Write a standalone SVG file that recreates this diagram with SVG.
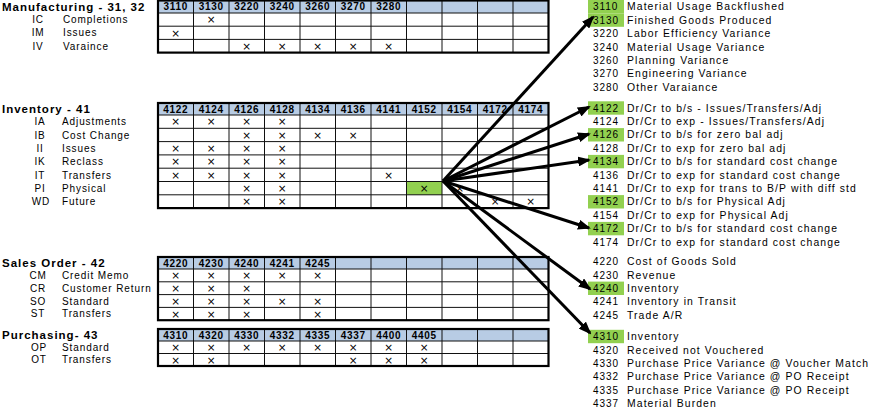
<svg xmlns="http://www.w3.org/2000/svg" width="888" height="409" viewBox="0 0 888 409">
<style>
text{font-family:"Liberation Sans",Arial,sans-serif;fill:#000}
.title{font-size:11.5px;font-weight:bold;letter-spacing:1px}
.lbl{font-size:10px;letter-spacing:0.9px}
.acc{font-size:10.4px;letter-spacing:1.1px}
.code{font-size:10px;letter-spacing:0.8px;text-anchor:middle}
.hd{font-size:10px;font-weight:bold;letter-spacing:0.7px;text-anchor:middle}
.x{font-family:"DejaVu Sans",sans-serif;font-size:10.5px;text-anchor:middle}
.hfill{fill:#b8cce4}
.grid{fill:none;stroke:#111;stroke-width:1}
.outer{fill:none;stroke:#000;stroke-width:2.2}
.green{fill:#92d050}
.conn{stroke:#000;stroke-width:3;fill:none}
</style>
<defs>
<marker id="ah" markerUnits="userSpaceOnUse" markerWidth="13" markerHeight="10" refX="11" refY="5" orient="auto">
<path d="M0,0 L13,5 L0,10 Z" fill="#000"/>
</marker>
</defs>

<g id="manufacturing">
<text class="title" x="2" y="10.5">Manufacturing - 31, 32</text>
<text class="code" x="38" y="23.2">IC</text><text class="lbl" x="63" y="23.2">Completions</text>
<text class="code" x="38" y="36.4">IM</text><text class="lbl" x="63" y="36.4">Issues</text>
<text class="code" x="38" y="49.6">IV</text><text class="lbl" x="63" y="49.6">Varaince</text>
<rect class="hfill" x="158" y="0.5" width="390.5" height="12.5"/>
<path class="grid" d="M158 13H548.5M158 26.2H548.5M158 39.4H548.5M193.5 0.5V52.6M229 0.5V52.6M264.5 0.5V52.6M300 0.5V52.6M335.5 0.5V52.6M371 0.5V52.6M406.5 0.5V52.6M442 0.5V52.6M477.5 0.5V52.6M513 0.5V52.6"/>
<rect class="outer" x="158" y="0.5" width="390.5" height="52.1"/>
<text class="hd" x="175.75" y="10.3">3110</text><text class="hd" x="211.25" y="10.3">3130</text><text class="hd" x="246.75" y="10.3">3220</text><text class="hd" x="282.25" y="10.3">3240</text><text class="hd" x="317.75" y="10.3">3260</text><text class="hd" x="353.25" y="10.3">3270</text><text class="hd" x="388.75" y="10.3">3280</text>
<text class="x" x="211.25" y="23.3">×</text>
<text class="x" x="175.75" y="36.5">×</text>
<text class="x" x="246.75" y="49.7">×</text><text class="x" x="282.25" y="49.7">×</text><text class="x" x="317.75" y="49.7">×</text><text class="x" x="353.25" y="49.7">×</text><text class="x" x="388.75" y="49.7">×</text>
</g>

<g id="inventory">
<text class="title" x="2" y="113">Inventory - 41</text>
<text class="code" x="40" y="125.3">IA</text><text class="lbl" x="62" y="125.3">Adjustments</text>
<text class="code" x="40" y="138.6">IB</text><text class="lbl" x="62" y="138.6">Cost Change</text>
<text class="code" x="40" y="151.9">II</text><text class="lbl" x="62" y="151.9">Issues</text>
<text class="code" x="40" y="165.2">IK</text><text class="lbl" x="62" y="165.2">Reclass</text>
<text class="code" x="40" y="178.5">IT</text><text class="lbl" x="62" y="178.5">Transfers</text>
<text class="code" x="40" y="191.8">PI</text><text class="lbl" x="62" y="191.8">Physical</text>
<text class="code" x="41" y="205.1">WD</text><text class="lbl" x="62" y="205.1">Future</text>
<rect class="hfill" x="158" y="103" width="390.5" height="12"/>
<rect class="green" x="406.5" y="181.5" width="35.5" height="13.3"/>
<path class="grid" d="M158 115H548.5M158 128.3H548.5M158 141.6H548.5M158 154.9H548.5M158 168.2H548.5M158 181.5H548.5M158 194.8H548.5M193.5 103V208.1M229 103V208.1M264.5 103V208.1M300 103V208.1M335.5 103V208.1M371 103V208.1M406.5 103V208.1M442 103V208.1M477.5 103V208.1M513 103V208.1"/>
<rect class="outer" x="158" y="103" width="390.5" height="105.1"/>
<text class="hd" x="175.75" y="112.6">4122</text><text class="hd" x="211.25" y="112.6">4124</text><text class="hd" x="246.75" y="112.6">4126</text><text class="hd" x="282.25" y="112.6">4128</text><text class="hd" x="317.75" y="112.6">4134</text><text class="hd" x="353.25" y="112.6">4136</text><text class="hd" x="388.75" y="112.6">4141</text><text class="hd" x="424.25" y="112.6">4152</text><text class="hd" x="459.75" y="112.6">4154</text><text class="hd" x="495.25" y="112.6">4172</text><text class="hd" x="530.75" y="112.6">4174</text>
<text class="x" x="175.75" y="125.4">×</text><text class="x" x="211.25" y="125.4">×</text><text class="x" x="246.75" y="125.4">×</text><text class="x" x="282.25" y="125.4">×</text>
<text class="x" x="246.75" y="138.7">×</text><text class="x" x="282.25" y="138.7">×</text><text class="x" x="317.75" y="138.7">×</text><text class="x" x="353.25" y="138.7">×</text>
<text class="x" x="175.75" y="152">×</text><text class="x" x="211.25" y="152">×</text><text class="x" x="246.75" y="152">×</text><text class="x" x="282.25" y="152">×</text>
<text class="x" x="175.75" y="165.3">×</text><text class="x" x="211.25" y="165.3">×</text><text class="x" x="246.75" y="165.3">×</text><text class="x" x="282.25" y="165.3">×</text>
<text class="x" x="175.75" y="178.6">×</text><text class="x" x="211.25" y="178.6">×</text><text class="x" x="246.75" y="178.6">×</text><text class="x" x="282.25" y="178.6">×</text><text class="x" x="388.75" y="178.6">×</text>
<text class="x" x="246.75" y="191.9">×</text><text class="x" x="282.25" y="191.9">×</text><text class="x" x="424.25" y="191.9">×</text><text class="x" x="459.75" y="191.9">×</text>
<text class="x" x="246.75" y="205.2">×</text><text class="x" x="282.25" y="205.2">×</text><text class="x" x="495.25" y="205.2">×</text><text class="x" x="530.75" y="205.2">×</text>
</g>

<g id="sales-order">
<text class="title" x="2" y="267">Sales Order - 42</text>
<text class="code" x="38" y="279">CM</text><text class="lbl" x="62" y="279">Credit Memo</text>
<text class="code" x="38" y="291.8">CR</text><text class="lbl" x="62" y="291.8">Customer Return</text>
<text class="code" x="38" y="304.6">SO</text><text class="lbl" x="62" y="304.6">Standard</text>
<text class="code" x="38" y="317.4">ST</text><text class="lbl" x="62" y="317.4">Transfers</text>
<rect class="hfill" x="158" y="257" width="390.5" height="12"/>
<path class="grid" d="M158 269H548.5M158 281.8H548.5M158 294.6H548.5M158 307.4H548.5M193.5 257V320.2M229 257V320.2M264.5 257V320.2M300 257V320.2M335.5 257V320.2M371 257V320.2M406.5 257V320.2M442 257V320.2M477.5 257V320.2M513 257V320.2"/>
<rect class="outer" x="158" y="257" width="390.5" height="63.2"/>
<text class="hd" x="175.75" y="266.6">4220</text><text class="hd" x="211.25" y="266.6">4230</text><text class="hd" x="246.75" y="266.6">4240</text><text class="hd" x="282.25" y="266.6">4241</text><text class="hd" x="317.75" y="266.6">4245</text>
<text class="x" x="175.75" y="279.1">×</text><text class="x" x="211.25" y="279.1">×</text><text class="x" x="246.75" y="279.1">×</text><text class="x" x="282.25" y="279.1">×</text><text class="x" x="317.75" y="279.1">×</text>
<text class="x" x="175.75" y="291.9">×</text><text class="x" x="211.25" y="291.9">×</text><text class="x" x="246.75" y="291.9">×</text>
<text class="x" x="175.75" y="304.7">×</text><text class="x" x="211.25" y="304.7">×</text><text class="x" x="246.75" y="304.7">×</text><text class="x" x="282.25" y="304.7">×</text><text class="x" x="317.75" y="304.7">×</text>
<text class="x" x="175.75" y="317.5">×</text><text class="x" x="211.25" y="317.5">×</text><text class="x" x="246.75" y="317.5">×</text><text class="x" x="317.75" y="317.5">×</text>
</g>

<g id="purchasing">
<text class="title" x="2" y="339">Purchasing- 43</text>
<text class="code" x="39" y="350.8">OP</text><text class="lbl" x="62" y="350.8">Standard</text>
<text class="code" x="39" y="363.3">OT</text><text class="lbl" x="62" y="363.3">Transfers</text>
<rect class="hfill" x="158" y="329" width="390.5" height="12"/>
<path class="grid" d="M158 341H548.5M158 353.5H548.5M193.5 329V366M229 329V366M264.5 329V366M300 329V366M335.5 329V366M371 329V366M406.5 329V366M442 329V366M477.5 329V366M513 329V366"/>
<rect class="outer" x="158" y="329" width="390.5" height="37"/>
<text class="hd" x="175.75" y="338.6">4310</text><text class="hd" x="211.25" y="338.6">4320</text><text class="hd" x="246.75" y="338.6">4330</text><text class="hd" x="282.25" y="338.6">4332</text><text class="hd" x="317.75" y="338.6">4335</text><text class="hd" x="353.25" y="338.6">4337</text><text class="hd" x="388.75" y="338.6">4400</text><text class="hd" x="424.25" y="338.6">4405</text>
<text class="x" x="175.75" y="351">×</text><text class="x" x="211.25" y="351">×</text><text class="x" x="246.75" y="351">×</text><text class="x" x="282.25" y="351">×</text><text class="x" x="317.75" y="351">×</text><text class="x" x="353.25" y="351">×</text><text class="x" x="388.75" y="351">×</text><text class="x" x="424.25" y="351">×</text>
<text class="x" x="175.75" y="363.5">×</text><text class="x" x="211.25" y="363.5">×</text><text class="x" x="353.25" y="363.5">×</text><text class="x" x="388.75" y="363.5">×</text><text class="x" x="424.25" y="363.5">×</text>
</g>

<g id="accounts">
<rect class="green" x="588" y="0" width="36" height="13.4"/>
<rect class="green" x="588" y="13.4" width="36" height="13.4"/>
<rect class="green" x="588" y="101.3" width="36" height="13.4"/>
<rect class="green" x="588" y="128.1" width="36" height="13.4"/>
<rect class="green" x="588" y="154.9" width="36" height="13.4"/>
<rect class="green" x="588" y="195.1" width="36" height="13.4"/>
<rect class="green" x="588" y="221.9" width="36" height="13.4"/>
<rect class="green" x="588" y="281.6" width="36" height="13.4"/>
<rect class="green" x="588" y="329.8" width="36" height="13.4"/>
<g id="acct-3110"><text class="lbl" x="593" y="10.3">3110</text><text class="acc" x="627" y="10.3">Material Usage Backflushed</text></g>
<g id="acct-3130"><text class="lbl" x="593" y="23.7">3130</text><text class="acc" x="627" y="23.7">Finished Goods Produced</text></g>
<g id="acct-3220"><text class="lbl" x="593" y="37.1">3220</text><text class="acc" x="627" y="37.1">Labor Efficiency Variance</text></g>
<g id="acct-3240"><text class="lbl" x="593" y="50.5">3240</text><text class="acc" x="627" y="50.5">Material Usage Variance</text></g>
<g id="acct-3260"><text class="lbl" x="593" y="63.9">3260</text><text class="acc" x="627" y="63.9">Planning Variance</text></g>
<g id="acct-3270"><text class="lbl" x="593" y="77.3">3270</text><text class="acc" x="627" y="77.3">Engineering Variance</text></g>
<g id="acct-3280"><text class="lbl" x="593" y="90.7">3280</text><text class="acc" x="627" y="90.7">Other Varaiance</text></g>
<g id="acct-4122"><text class="lbl" x="593" y="111.6">4122</text><text class="acc" x="627" y="111.6">Dr/Cr to b/s - Issues/Transfers/Adj</text></g>
<g id="acct-4124"><text class="lbl" x="593" y="125">4124</text><text class="acc" x="627" y="125">Dr/Cr to exp - Issues/Transfers/Adj</text></g>
<g id="acct-4126"><text class="lbl" x="593" y="138.4">4126</text><text class="acc" x="627" y="138.4">Dr/Cr to b/s for zero bal adj</text></g>
<g id="acct-4128"><text class="lbl" x="593" y="151.8">4128</text><text class="acc" x="627" y="151.8">Dr/Cr to exp for zero bal adj</text></g>
<g id="acct-4134"><text class="lbl" x="593" y="165.2">4134</text><text class="acc" x="627" y="165.2">Dr/Cr to b/s for standard cost change</text></g>
<g id="acct-4136"><text class="lbl" x="593" y="178.6">4136</text><text class="acc" x="627" y="178.6">Dr/Cr to exp for standard cost change</text></g>
<g id="acct-4141"><text class="lbl" x="593" y="192">4141</text><text class="acc" x="627" y="192">Dr/Cr to exp for trans to B/P with diff std</text></g>
<g id="acct-4152"><text class="lbl" x="593" y="205.4">4152</text><text class="acc" x="627" y="205.4">Dr/Cr to b/s for Physical Adj</text></g>
<g id="acct-4154"><text class="lbl" x="593" y="218.8">4154</text><text class="acc" x="627" y="218.8">Dr/Cr to exp for Physical Adj</text></g>
<g id="acct-4172"><text class="lbl" x="593" y="232.2">4172</text><text class="acc" x="627" y="232.2">Dr/Cr to b/s for standard cost change</text></g>
<g id="acct-4174"><text class="lbl" x="593" y="245.6">4174</text><text class="acc" x="627" y="245.6">Dr/Cr to exp for standard cost change</text></g>
<g id="acct-4220"><text class="lbl" x="593" y="265.3">4220</text><text class="acc" x="627" y="265.3">Cost of Goods Sold</text></g>
<g id="acct-4230"><text class="lbl" x="593" y="278.6">4230</text><text class="acc" x="627" y="278.6">Revenue</text></g>
<g id="acct-4240"><text class="lbl" x="593" y="291.9">4240</text><text class="acc" x="627" y="291.9">Inventory</text></g>
<g id="acct-4241"><text class="lbl" x="593" y="305.2">4241</text><text class="acc" x="627" y="305.2">Inventory in Transit</text></g>
<g id="acct-4245"><text class="lbl" x="593" y="318.5">4245</text><text class="acc" x="627" y="318.5">Trade A/R</text></g>
<g id="acct-4310"><text class="lbl" x="593" y="340.1">4310</text><text class="acc" x="627" y="340.1">Inventory</text></g>
<g id="acct-4320"><text class="lbl" x="593" y="353.5">4320</text><text class="acc" x="627" y="353.5">Received not Vouchered</text></g>
<g id="acct-4330"><text class="lbl" x="593" y="366.8">4330</text><text class="acc" x="627" y="366.8">Purchase Price Variance @ Voucher Match</text></g>
<g id="acct-4332"><text class="lbl" x="593" y="380.2">4332</text><text class="acc" x="627" y="380.2">Purchase Price Variance @ PO Receipt</text></g>
<g id="acct-4335"><text class="lbl" x="593" y="393.5">4335</text><text class="acc" x="627" y="393.5">Purchase Price Variance @ PO Receipt</text></g>
<g id="acct-4337"><text class="lbl" x="593" y="406.8">4337</text><text class="acc" x="627" y="406.8">Material Burden</text></g>
</g>

<g id="connectors">
<line class="conn" x1="443" y1="181" x2="593" y2="17" marker-end="url(#ah)"/>
<line class="conn" x1="443" y1="181" x2="589" y2="107" marker-end="url(#ah)"/>
<line class="conn" x1="443" y1="181" x2="589" y2="134" marker-end="url(#ah)"/>
<line class="conn" x1="443" y1="181" x2="589" y2="160" marker-end="url(#ah)"/>
<line class="conn" x1="443" y1="181" x2="589" y2="228" marker-end="url(#ah)"/>
<line class="conn" x1="443" y1="181" x2="590" y2="289" marker-end="url(#ah)"/>
<line class="conn" x1="443" y1="181" x2="590" y2="333" marker-end="url(#ah)"/>
</g>
</svg>
